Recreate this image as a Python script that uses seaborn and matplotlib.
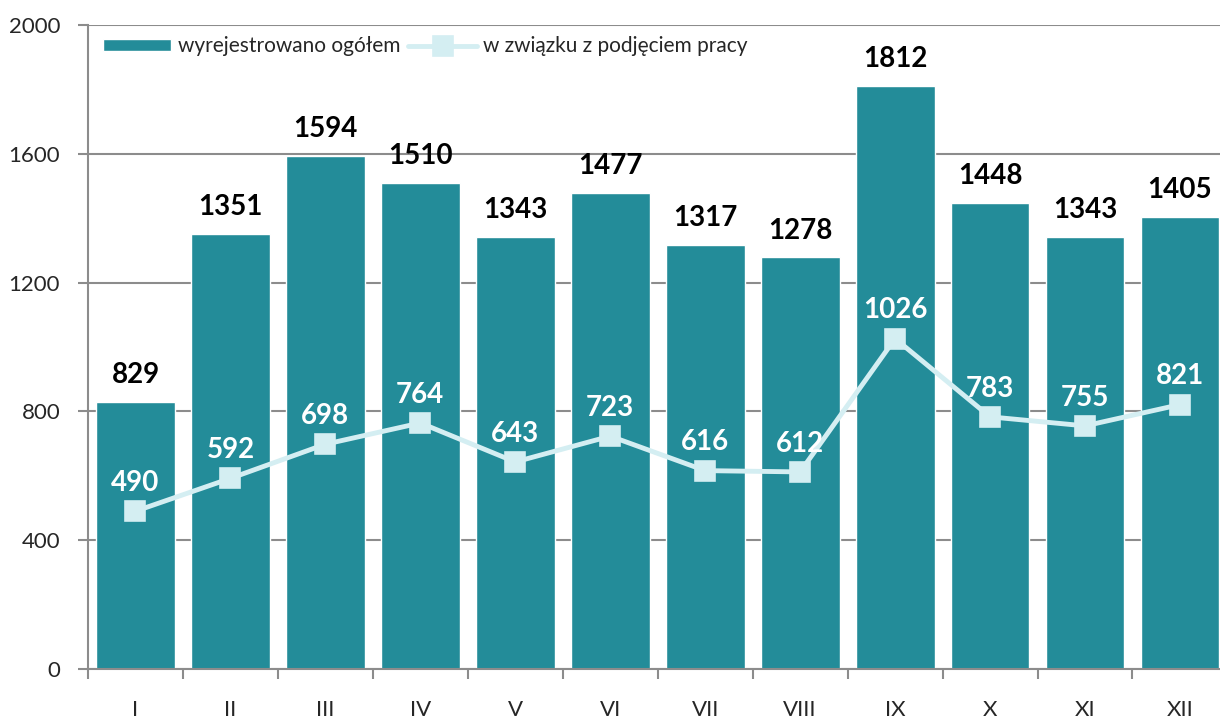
import matplotlib
matplotlib.use("Agg")
import matplotlib.pyplot as plt
import numpy as np
import seaborn as sns
from matplotlib.ticker import FixedLocator

# ==========================================================
# Data
# ==========================================================

MONTHS = ["I", "II", "III", "IV", "V", "VI",
          "VII", "VIII", "IX", "X", "XI", "XII"]

TOTAL = [829, 1351, 1594, 1510, 1343, 1477,
         1317, 1278, 1812, 1448, 1343, 1405]

WORK_LOSS = [490, 592, 698, 764, 643, 723,
             616, 612, 1026, 783, 755, 821]

Y_TICKS = [0, 400, 800, 1200, 1600, 2000]

LABEL_TOTAL = "wyrejestrowano ogółem"
LABEL_WORK = "w związku z podjęciem pracy"

BAR_COLOR = "#238C99"
LINE_COLOR = "#D4EEF2"
MARKER_EDGE = "#A9DCE4"
GRID_COLOR = "#8C8C8C"

# ==========================================================
# Style
# ==========================================================

sns.set_style("white")
plt.rcParams["font.family"] = ["Lato", "DejaVu Sans"]

fig = plt.figure(figsize=(12.2, 7.24), dpi=100)
ax = fig.add_axes([0.0721, 0.076, 0.934, 0.8895])

# ==========================================================
# Bars
# ==========================================================

sns.barplot(
    x=MONTHS,
    y=TOTAL,
    color=BAR_COLOR,
    saturation=1,
    width=0.83,
    label=LABEL_TOTAL,
    ax=ax,
    zorder=2
)

# ==========================================================
# Line
# ==========================================================

sns.pointplot(
    x=MONTHS,
    y=WORK_LOSS,
    color=LINE_COLOR,
    markers="s",
    linestyles="-",
    linewidth=3.5,
    markersize=13,
    label=LABEL_WORK,
    ax=ax
)

line = ax.lines[-1]
line.set_markeredgecolor(MARKER_EDGE)
line.set_markeredgewidth(1.2)
line.set_zorder(4)

# ==========================================================
# Value labels
# ==========================================================

for i, v in enumerate(TOTAL):
    ax.annotate(
        str(v), (i, v),
        xytext=(0, 10), textcoords="offset points",
        ha="center", va="bottom",
        fontsize=20, fontweight="bold", color="black"
    )

for i, v in enumerate(WORK_LOSS):
    ax.annotate(
        str(v), (i, v),
        xytext=(0, 11), textcoords="offset points",
        ha="center", va="bottom",
        fontsize=20, fontweight="bold", color="white",
        zorder=5
    )

# ==========================================================
# Axes
# ==========================================================

ax.set_xlim(-0.5, 11.5)
ax.set_ylim(0, 2000)
ax.set_yticks(Y_TICKS)
ax.set_yticklabels([str(t) for t in Y_TICKS], fontsize=16)
ax.set_xlabel("")
ax.set_ylabel("")

ax.yaxis.grid(True, color=GRID_COLOR, linewidth=1.5, zorder=0)
ax.set_axisbelow(True)

for side in ["top", "right"]:
    ax.spines[side].set_visible(False)
for side in ["left", "bottom"]:
    ax.spines[side].set_color(GRID_COLOR)
    ax.spines[side].set_linewidth(1.5)

ax.tick_params(axis="y", direction="out", length=7, width=1.5,
               color=GRID_COLOR, left=True, pad=13)

ax.tick_params(axis="x", which="major", length=0, pad=22, labelsize=16)
ax.xaxis.set_minor_locator(FixedLocator(np.arange(-0.5, 11.6, 1)))
ax.tick_params(axis="x", which="minor", direction="out", length=7,
               width=1.5, color=GRID_COLOR, bottom=True)

# ==========================================================
# Legend
# ==========================================================

handles, labels = ax.get_legend_handles_labels()
order = [labels.index(LABEL_TOTAL), labels.index(LABEL_WORK)]

ax.legend(
    [handles[i] for i in order],
    [labels[i] for i in order],
    loc="upper left",
    bbox_to_anchor=(0.0, 1.005),
    ncol=2,
    frameon=False,
    fontsize=15,
    handlelength=3.3,
    handleheight=0.55,
    handletextpad=0.3,
    columnspacing=0.4,
    borderaxespad=0.3
)

fig.savefig("out.png", dpi=100)
